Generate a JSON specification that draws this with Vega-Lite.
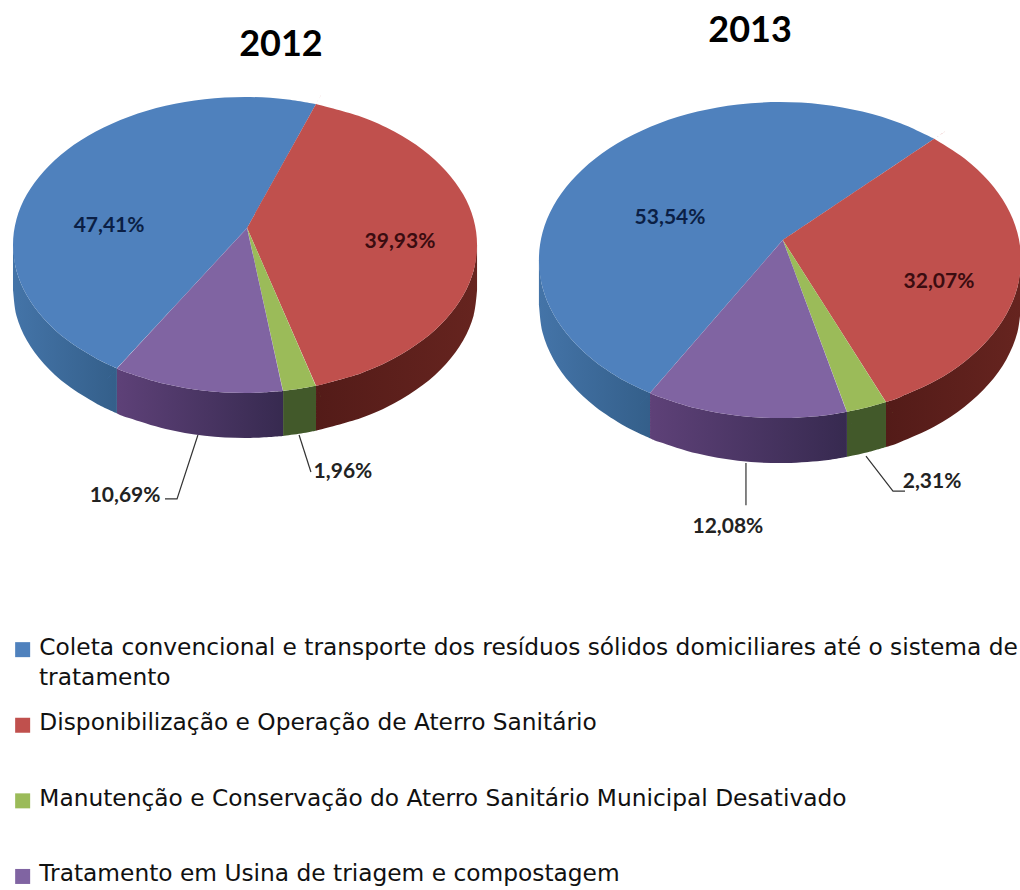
{"$schema":"https://vega.github.io/schema/vega-lite/v6.json","background":"white","padding":0,"spacing":0,"bounds":"flush",
"config":{"view":{"stroke":null},"axis":{"disable":true}},
"datasets":{
"categories":[{"c":"coleta","categoria":"Coleta convencional e transporte dos resíduos sólidos domiciliares até o sistema de tratamento"},{"c":"aterro","categoria":"Disponibilização e Operação de Aterro Sanitário"},{"c":"manut","categoria":"Manutenção e Conservação do Aterro Sanitário Municipal Desativado"},{"c":"usina","categoria":"Tratamento em Usina de triagem e compostagem"}],
"top":[
{"ano":2012,"c":"coleta","u":0.009,"v":-0.115},{"ano":2012,"c":"coleta","u":-0.552,"v":0.834},{"ano":2012,"c":"coleta","u":-0.552,"v":0.834},{"ano":2012,"c":"coleta","u":-0.552,"v":0.834},{"ano":2012,"c":"coleta","u":-0.643,"v":0.766},{"ano":2012,"c":"coleta","u":-0.766,"v":0.643},{"ano":2012,"c":"coleta","u":-0.866,"v":0.5},{"ano":2012,"c":"coleta","u":-0.94,"v":0.342},{"ano":2012,"c":"coleta","u":-0.985,"v":0.174},{"ano":2012,"c":"coleta","u":-1,"v":0},{"ano":2012,"c":"coleta","u":-0.985,"v":-0.174},{"ano":2012,"c":"coleta","u":-0.94,"v":-0.342},{"ano":2012,"c":"coleta","u":-0.866,"v":-0.5},{"ano":2012,"c":"coleta","u":-0.766,"v":-0.643},{"ano":2012,"c":"coleta","u":-0.643,"v":-0.766},{"ano":2012,"c":"coleta","u":-0.5,"v":-0.866},{"ano":2012,"c":"coleta","u":-0.342,"v":-0.94},{"ano":2012,"c":"coleta","u":-0.174,"v":-0.985},{"ano":2012,"c":"coleta","u":0,"v":-1},{"ano":2012,"c":"coleta","u":0.174,"v":-0.985},{"ano":2012,"c":"coleta","u":0.306,"v":-0.952},
{"ano":2012,"c":"aterro","u":0.009,"v":-0.115},{"ano":2012,"c":"aterro","u":0.306,"v":-0.952},{"ano":2012,"c":"aterro","u":0.306,"v":-0.952},{"ano":2012,"c":"aterro","u":0.306,"v":-0.952},{"ano":2012,"c":"aterro","u":0.5,"v":-0.866},{"ano":2012,"c":"aterro","u":0.643,"v":-0.766},{"ano":2012,"c":"aterro","u":0.766,"v":-0.643},{"ano":2012,"c":"aterro","u":0.866,"v":-0.5},{"ano":2012,"c":"aterro","u":0.94,"v":-0.342},{"ano":2012,"c":"aterro","u":0.985,"v":-0.174},{"ano":2012,"c":"aterro","u":1,"v":0},{"ano":2012,"c":"aterro","u":0.985,"v":0.174},{"ano":2012,"c":"aterro","u":0.94,"v":0.342},{"ano":2012,"c":"aterro","u":0.866,"v":0.5},{"ano":2012,"c":"aterro","u":0.766,"v":0.643},{"ano":2012,"c":"aterro","u":0.643,"v":0.766},{"ano":2012,"c":"aterro","u":0.5,"v":0.866},{"ano":2012,"c":"aterro","u":0.306,"v":0.952},
{"ano":2012,"c":"manut","u":0.009,"v":-0.115},{"ano":2012,"c":"manut","u":0.306,"v":0.952},{"ano":2012,"c":"manut","u":0.306,"v":0.952},{"ano":2012,"c":"manut","u":0.306,"v":0.952},{"ano":2012,"c":"manut","u":0.242,"v":0.97},{"ano":2012,"c":"manut","u":0.164,"v":0.986},
{"ano":2012,"c":"usina","u":0.009,"v":-0.115},{"ano":2012,"c":"usina","u":0.164,"v":0.986},{"ano":2012,"c":"usina","u":0.164,"v":0.986},{"ano":2012,"c":"usina","u":0.164,"v":0.986},{"ano":2012,"c":"usina","u":0,"v":1},{"ano":2012,"c":"usina","u":-0.174,"v":0.985},{"ano":2012,"c":"usina","u":-0.342,"v":0.94},{"ano":2012,"c":"usina","u":-0.5,"v":0.866},{"ano":2012,"c":"usina","u":-0.552,"v":0.834},
{"ano":2013,"c":"coleta","u":0.012,"v":-0.127},{"ano":2013,"c":"coleta","u":-0.539,"v":0.842},{"ano":2013,"c":"coleta","u":-0.539,"v":0.842},{"ano":2013,"c":"coleta","u":-0.539,"v":0.842},{"ano":2013,"c":"coleta","u":-0.643,"v":0.766},{"ano":2013,"c":"coleta","u":-0.766,"v":0.643},{"ano":2013,"c":"coleta","u":-0.866,"v":0.5},{"ano":2013,"c":"coleta","u":-0.94,"v":0.342},{"ano":2013,"c":"coleta","u":-0.985,"v":0.174},{"ano":2013,"c":"coleta","u":-1,"v":0},{"ano":2013,"c":"coleta","u":-0.985,"v":-0.174},{"ano":2013,"c":"coleta","u":-0.94,"v":-0.342},{"ano":2013,"c":"coleta","u":-0.866,"v":-0.5},{"ano":2013,"c":"coleta","u":-0.766,"v":-0.643},{"ano":2013,"c":"coleta","u":-0.643,"v":-0.766},{"ano":2013,"c":"coleta","u":-0.5,"v":-0.866},{"ano":2013,"c":"coleta","u":-0.342,"v":-0.94},{"ano":2013,"c":"coleta","u":-0.174,"v":-0.985},{"ano":2013,"c":"coleta","u":0,"v":-1},{"ano":2013,"c":"coleta","u":0.174,"v":-0.985},{"ano":2013,"c":"coleta","u":0.342,"v":-0.94},{"ano":2013,"c":"coleta","u":0.5,"v":-0.866},{"ano":2013,"c":"coleta","u":0.64,"v":-0.768},
{"ano":2013,"c":"aterro","u":0.012,"v":-0.127},{"ano":2013,"c":"aterro","u":0.64,"v":-0.768},{"ano":2013,"c":"aterro","u":0.64,"v":-0.768},{"ano":2013,"c":"aterro","u":0.64,"v":-0.768},{"ano":2013,"c":"aterro","u":0.766,"v":-0.643},{"ano":2013,"c":"aterro","u":0.866,"v":-0.5},{"ano":2013,"c":"aterro","u":0.94,"v":-0.342},{"ano":2013,"c":"aterro","u":0.985,"v":-0.174},{"ano":2013,"c":"aterro","u":1,"v":0},{"ano":2013,"c":"aterro","u":0.985,"v":0.174},{"ano":2013,"c":"aterro","u":0.94,"v":0.342},{"ano":2013,"c":"aterro","u":0.866,"v":0.5},{"ano":2013,"c":"aterro","u":0.766,"v":0.643},{"ano":2013,"c":"aterro","u":0.643,"v":0.766},{"ano":2013,"c":"aterro","u":0.5,"v":0.866},{"ano":2013,"c":"aterro","u":0.44,"v":0.898},
{"ano":2013,"c":"manut","u":0.012,"v":-0.127},{"ano":2013,"c":"manut","u":0.44,"v":0.898},{"ano":2013,"c":"manut","u":0.44,"v":0.898},{"ano":2013,"c":"manut","u":0.44,"v":0.898},{"ano":2013,"c":"manut","u":0.36,"v":0.933},{"ano":2013,"c":"manut","u":0.278,"v":0.96},
{"ano":2013,"c":"usina","u":0.012,"v":-0.127},{"ano":2013,"c":"usina","u":0.278,"v":0.96},{"ano":2013,"c":"usina","u":0.278,"v":0.96},{"ano":2013,"c":"usina","u":0.278,"v":0.96},{"ano":2013,"c":"usina","u":0.174,"v":0.985},{"ano":2013,"c":"usina","u":0,"v":1},{"ano":2013,"c":"usina","u":-0.174,"v":0.985},{"ano":2013,"c":"usina","u":-0.342,"v":0.94},{"ano":2013,"c":"usina","u":-0.5,"v":0.866},{"ano":2013,"c":"usina","u":-0.539,"v":0.842}
],
"side":[
{"ano":2012,"c":"coleta","u":-0.552,"v":0.834},{"ano":2012,"c":"coleta","u":-0.643,"v":0.766},{"ano":2012,"c":"coleta","u":-0.766,"v":0.643},{"ano":2012,"c":"coleta","u":-0.866,"v":0.5},{"ano":2012,"c":"coleta","u":-0.94,"v":0.342},{"ano":2012,"c":"coleta","u":-0.985,"v":0.174},{"ano":2012,"c":"coleta","u":-1,"v":0},{"ano":2012,"c":"coleta","u":-1,"v":0},{"ano":2012,"c":"coleta","u":-1,"v":0},{"ano":2012,"c":"coleta","u":-1,"v":0.304},{"ano":2012,"c":"coleta","u":-1,"v":0.304},{"ano":2012,"c":"coleta","u":-1,"v":0.304},{"ano":2012,"c":"coleta","u":-0.985,"v":0.478},{"ano":2012,"c":"coleta","u":-0.94,"v":0.646},{"ano":2012,"c":"coleta","u":-0.866,"v":0.804},{"ano":2012,"c":"coleta","u":-0.766,"v":0.947},{"ano":2012,"c":"coleta","u":-0.643,"v":1.07},{"ano":2012,"c":"coleta","u":-0.552,"v":1.138},
{"ano":2012,"c":"aterro","u":1,"v":0},{"ano":2012,"c":"aterro","u":0.985,"v":0.174},{"ano":2012,"c":"aterro","u":0.94,"v":0.342},{"ano":2012,"c":"aterro","u":0.866,"v":0.5},{"ano":2012,"c":"aterro","u":0.766,"v":0.643},{"ano":2012,"c":"aterro","u":0.643,"v":0.766},{"ano":2012,"c":"aterro","u":0.5,"v":0.866},{"ano":2012,"c":"aterro","u":0.306,"v":0.952},{"ano":2012,"c":"aterro","u":0.306,"v":0.952},{"ano":2012,"c":"aterro","u":0.306,"v":0.952},{"ano":2012,"c":"aterro","u":0.306,"v":1.256},{"ano":2012,"c":"aterro","u":0.306,"v":1.256},{"ano":2012,"c":"aterro","u":0.306,"v":1.256},{"ano":2012,"c":"aterro","u":0.5,"v":1.17},{"ano":2012,"c":"aterro","u":0.643,"v":1.07},{"ano":2012,"c":"aterro","u":0.766,"v":0.947},{"ano":2012,"c":"aterro","u":0.866,"v":0.804},{"ano":2012,"c":"aterro","u":0.94,"v":0.646},{"ano":2012,"c":"aterro","u":0.985,"v":0.478},{"ano":2012,"c":"aterro","u":1,"v":0.304},
{"ano":2012,"c":"manut","u":0.306,"v":0.952},{"ano":2012,"c":"manut","u":0.242,"v":0.97},{"ano":2012,"c":"manut","u":0.164,"v":0.986},{"ano":2012,"c":"manut","u":0.164,"v":0.986},{"ano":2012,"c":"manut","u":0.164,"v":0.986},{"ano":2012,"c":"manut","u":0.164,"v":1.29},{"ano":2012,"c":"manut","u":0.164,"v":1.29},{"ano":2012,"c":"manut","u":0.164,"v":1.29},{"ano":2012,"c":"manut","u":0.242,"v":1.274},{"ano":2012,"c":"manut","u":0.306,"v":1.256},
{"ano":2012,"c":"usina","u":0.164,"v":0.986},{"ano":2012,"c":"usina","u":0,"v":1},{"ano":2012,"c":"usina","u":-0.174,"v":0.985},{"ano":2012,"c":"usina","u":-0.342,"v":0.94},{"ano":2012,"c":"usina","u":-0.5,"v":0.866},{"ano":2012,"c":"usina","u":-0.552,"v":0.834},{"ano":2012,"c":"usina","u":-0.552,"v":0.834},{"ano":2012,"c":"usina","u":-0.552,"v":0.834},{"ano":2012,"c":"usina","u":-0.552,"v":1.138},{"ano":2012,"c":"usina","u":-0.552,"v":1.138},{"ano":2012,"c":"usina","u":-0.552,"v":1.138},{"ano":2012,"c":"usina","u":-0.5,"v":1.17},{"ano":2012,"c":"usina","u":-0.342,"v":1.244},{"ano":2012,"c":"usina","u":-0.174,"v":1.289},{"ano":2012,"c":"usina","u":0,"v":1.304},{"ano":2012,"c":"usina","u":0.164,"v":1.29},
{"ano":2013,"c":"coleta","u":-0.539,"v":0.842},{"ano":2013,"c":"coleta","u":-0.643,"v":0.766},{"ano":2013,"c":"coleta","u":-0.766,"v":0.643},{"ano":2013,"c":"coleta","u":-0.866,"v":0.5},{"ano":2013,"c":"coleta","u":-0.94,"v":0.342},{"ano":2013,"c":"coleta","u":-0.985,"v":0.174},{"ano":2013,"c":"coleta","u":-1,"v":0},{"ano":2013,"c":"coleta","u":-1,"v":0},{"ano":2013,"c":"coleta","u":-1,"v":0},{"ano":2013,"c":"coleta","u":-1,"v":0.285},{"ano":2013,"c":"coleta","u":-1,"v":0.285},{"ano":2013,"c":"coleta","u":-1,"v":0.285},{"ano":2013,"c":"coleta","u":-0.985,"v":0.459},{"ano":2013,"c":"coleta","u":-0.94,"v":0.627},{"ano":2013,"c":"coleta","u":-0.866,"v":0.785},{"ano":2013,"c":"coleta","u":-0.766,"v":0.928},{"ano":2013,"c":"coleta","u":-0.643,"v":1.051},{"ano":2013,"c":"coleta","u":-0.539,"v":1.127},
{"ano":2013,"c":"aterro","u":1,"v":0},{"ano":2013,"c":"aterro","u":0.985,"v":0.174},{"ano":2013,"c":"aterro","u":0.94,"v":0.342},{"ano":2013,"c":"aterro","u":0.866,"v":0.5},{"ano":2013,"c":"aterro","u":0.766,"v":0.643},{"ano":2013,"c":"aterro","u":0.643,"v":0.766},{"ano":2013,"c":"aterro","u":0.5,"v":0.866},{"ano":2013,"c":"aterro","u":0.44,"v":0.898},{"ano":2013,"c":"aterro","u":0.44,"v":0.898},{"ano":2013,"c":"aterro","u":0.44,"v":0.898},{"ano":2013,"c":"aterro","u":0.44,"v":1.183},{"ano":2013,"c":"aterro","u":0.44,"v":1.183},{"ano":2013,"c":"aterro","u":0.44,"v":1.183},{"ano":2013,"c":"aterro","u":0.5,"v":1.151},{"ano":2013,"c":"aterro","u":0.643,"v":1.051},{"ano":2013,"c":"aterro","u":0.766,"v":0.928},{"ano":2013,"c":"aterro","u":0.866,"v":0.785},{"ano":2013,"c":"aterro","u":0.94,"v":0.627},{"ano":2013,"c":"aterro","u":0.985,"v":0.459},{"ano":2013,"c":"aterro","u":1,"v":0.285},
{"ano":2013,"c":"manut","u":0.44,"v":0.898},{"ano":2013,"c":"manut","u":0.36,"v":0.933},{"ano":2013,"c":"manut","u":0.278,"v":0.96},{"ano":2013,"c":"manut","u":0.278,"v":0.96},{"ano":2013,"c":"manut","u":0.278,"v":0.96},{"ano":2013,"c":"manut","u":0.278,"v":1.245},{"ano":2013,"c":"manut","u":0.278,"v":1.245},{"ano":2013,"c":"manut","u":0.278,"v":1.245},{"ano":2013,"c":"manut","u":0.36,"v":1.218},{"ano":2013,"c":"manut","u":0.44,"v":1.183},
{"ano":2013,"c":"usina","u":0.278,"v":0.96},{"ano":2013,"c":"usina","u":0.174,"v":0.985},{"ano":2013,"c":"usina","u":0,"v":1},{"ano":2013,"c":"usina","u":-0.174,"v":0.985},{"ano":2013,"c":"usina","u":-0.342,"v":0.94},{"ano":2013,"c":"usina","u":-0.5,"v":0.866},{"ano":2013,"c":"usina","u":-0.539,"v":0.842},{"ano":2013,"c":"usina","u":-0.539,"v":0.842},{"ano":2013,"c":"usina","u":-0.539,"v":0.842},{"ano":2013,"c":"usina","u":-0.539,"v":1.127},{"ano":2013,"c":"usina","u":-0.539,"v":1.127},{"ano":2013,"c":"usina","u":-0.539,"v":1.127},{"ano":2013,"c":"usina","u":-0.5,"v":1.151},{"ano":2013,"c":"usina","u":-0.342,"v":1.225},{"ano":2013,"c":"usina","u":-0.174,"v":1.27},{"ano":2013,"c":"usina","u":0,"v":1.285},{"ano":2013,"c":"usina","u":0.174,"v":1.27},{"ano":2013,"c":"usina","u":0.278,"v":1.245}
],
"leaders":[
{"ano":2012,"c":"usina","u":-0.203,"v":1.284},{"ano":2012,"c":"usina","u":-0.293,"v":1.716},{"ano":2012,"c":"usina","u":-0.345,"v":1.716},
{"ano":2012,"c":"manut","u":0.233,"v":1.284},{"ano":2012,"c":"manut","u":0.284,"v":1.534},
{"ano":2013,"c":"usina","u":-0.141,"v":1.285},{"ano":2013,"c":"usina","u":-0.141,"v":1.551},
{"ano":2013,"c":"manut","u":0.357,"v":1.241},{"ano":2013,"c":"manut","u":0.469,"v":1.462},{"ano":2013,"c":"manut","u":0.519,"v":1.462}
],
"labels":[
{"ano":2012,"c":"coleta","label":"47,41%","u":-0.586,"v":-0.128,"tint":"#0b1f45"},
{"ano":2012,"c":"aterro","label":"39,93%","u":0.668,"v":-0.02,"tint":"#3a0c10"},
{"ano":2012,"c":"usina","label":"10,69%","u":-0.517,"v":1.696,"tint":"#222222"},
{"ano":2012,"c":"manut","label":"1,96%","u":0.422,"v":1.534,"tint":"#222222"},
{"ano":2013,"c":"coleta","label":"53,54%","u":-0.456,"v":-0.266,"tint":"#0b1f45"},
{"ano":2013,"c":"aterro","label":"32,07%","u":0.66,"v":0.139,"tint":"#3a0c10"},
{"ano":2013,"c":"usina","label":"12,08%","u":-0.216,"v":1.69,"tint":"#222222"},
{"ano":2013,"c":"manut","label":"2,31%","u":0.631,"v":1.405,"tint":"#222222"}
],
"titles":[{"ano":2012,"label":"2012","u":0.155,"v":-1.351},{"ano":2013,"label":"2013","u":-0.124,"v":-1.449}],
"wrapped":[{"label":"tratamento","u":-0.888,"v":2.926}]
},
"resolve":{"scale":{"color":"shared"},"legend":{"color":"shared"}},
"hconcat":[
{"width":510,"height":620,
"encoding":{"x":{"field":"u","type":"quantitative","scale":{"domain":[-1.056,1.142],"nice":false,"zero":false},"axis":null},"y":{"field":"v","type":"quantitative","scale":{"domain":[-1.655,2.534],"nice":false,"zero":false,"reverse":true},"axis":null}},
"layer":[
{"data":{"name":"side"},"transform":[{"filter":"datum.ano==2012 && datum.c=='coleta'"},{"window":[{"op":"row_number","as":"i"}]}],"mark":{"type":"line","interpolate":"cardinal","filled":true,"stroke":null,"fill":{"gradient":"linear","x1":0,"y1":0,"x2":1,"y2":0,"stops":[{"offset":0,"color":"#4474a8"},{"offset":1,"color":"#345f8a"}]}},"encoding":{"order":{"field":"i"}}},
{"data":{"name":"side"},"transform":[{"filter":"datum.ano==2012 && datum.c=='aterro'"},{"window":[{"op":"row_number","as":"i"}]}],"mark":{"type":"line","interpolate":"cardinal","filled":true,"stroke":null,"fill":{"gradient":"linear","x1":0,"y1":0,"x2":1,"y2":0,"stops":[{"offset":0,"color":"#531b18"},{"offset":1,"color":"#66241f"}]}},"encoding":{"order":{"field":"i"}}},
{"data":{"name":"side"},"transform":[{"filter":"datum.ano==2012 && datum.c=='manut'"},{"window":[{"op":"row_number","as":"i"}]}],"mark":{"type":"line","interpolate":"cardinal","filled":true,"stroke":null,"fill":"#42592a"},"encoding":{"order":{"field":"i"}}},
{"data":{"name":"side"},"transform":[{"filter":"datum.ano==2012 && datum.c=='usina'"},{"window":[{"op":"row_number","as":"i"}]}],"mark":{"type":"line","interpolate":"cardinal","filled":true,"stroke":null,"fill":{"gradient":"linear","x1":0,"y1":0,"x2":1,"y2":0,"stops":[{"offset":0,"color":"#5e4178"},{"offset":1,"color":"#372a50"}]}},"encoding":{"order":{"field":"i"}}},
{"data":{"name":"top"},"transform":[{"filter":"datum.ano==2012"},{"lookup":"c","from":{"data":{"name":"categories"},"key":"c","fields":["categoria"]}},{"window":[{"op":"row_number","as":"i"}]}],"mark":{"type":"line","interpolate":"cardinal","filled":true,"stroke":null},
"encoding":{"order":{"field":"i"},"color":{"field":"categoria","type":"nominal","scale":{"domain":["Coleta convencional e transporte dos resíduos sólidos domiciliares até o sistema de tratamento","Disponibilização e Operação de Aterro Sanitário","Manutenção e Conservação do Aterro Sanitário Municipal Desativado","Tratamento em Usina de triagem e compostagem"],"range":["#4f81bd","#c0504d","#9bbb59","#8064a2"]},
"legend":{"orient":"none","legendX":11,"legendY":638,"title":null,"symbolType":"square","symbolSize":225,"symbolStrokeWidth":0,"symbolOpacity":1,"labelFont":"DejaVu Sans","labelFontSize":23.3,"labelColor":"#111111","labelLimit":1010,"labelOffset":5,"labelBaseline":"alphabetic","rowPadding":51.6,"columns":1,"labelExpr":"replace(datum.label,' tratamento','')",
"encoding":{"labels":{"dy":{"value":5}}}}}}},
{"data":{"name":"wrapped"},"mark":{"type":"text","font":"DejaVu Sans","fontSize":23.3,"align":"left","color":"#111111"},"encoding":{"text":{"field":"label"}}},
{"data":{"name":"leaders"},"transform":[{"filter":"datum.ano==2012"},{"window":[{"op":"row_number","as":"i"}]}],"mark":{"type":"line","stroke":"#333333","strokeWidth":1.2},"encoding":{"detail":{"field":"c"},"order":{"field":"i"}}},
{"data":{"name":"labels"},"transform":[{"filter":"datum.ano==2012"}],"mark":{"type":"text","font":"Lato","fontSize":21,"fontWeight":"bold"},"encoding":{"text":{"field":"label"},"color":{"field":"tint","type":"nominal","scale":null}}},
{"data":{"name":"titles"},"transform":[{"filter":"datum.ano==2012"}],"mark":{"type":"text","font":"Lato","fontSize":36,"fontWeight":"bold","color":"#000000"},"encoding":{"text":{"field":"label"}}}
]},
{"width":510,"height":620,
"encoding":{"x":{"field":"u","type":"quantitative","scale":{"domain":[-1.12,0.996],"nice":false,"zero":false},"axis":null},"y":{"field":"v","type":"quantitative","scale":{"domain":[-1.646,2.278],"nice":false,"zero":false,"reverse":true},"axis":null}},
"layer":[
{"data":{"name":"side"},"transform":[{"filter":"datum.ano==2013 && datum.c=='coleta'"},{"window":[{"op":"row_number","as":"i"}]}],"mark":{"type":"line","interpolate":"cardinal","filled":true,"stroke":null,"fill":{"gradient":"linear","x1":0,"y1":0,"x2":1,"y2":0,"stops":[{"offset":0,"color":"#4474a8"},{"offset":1,"color":"#345f8a"}]}},"encoding":{"order":{"field":"i"}}},
{"data":{"name":"side"},"transform":[{"filter":"datum.ano==2013 && datum.c=='aterro'"},{"window":[{"op":"row_number","as":"i"}]}],"mark":{"type":"line","interpolate":"cardinal","filled":true,"stroke":null,"clip":true,"fill":{"gradient":"linear","x1":0,"y1":0,"x2":1,"y2":0,"stops":[{"offset":0,"color":"#531b18"},{"offset":1,"color":"#66241f"}]}},"encoding":{"order":{"field":"i"}}},
{"data":{"name":"side"},"transform":[{"filter":"datum.ano==2013 && datum.c=='manut'"},{"window":[{"op":"row_number","as":"i"}]}],"mark":{"type":"line","interpolate":"cardinal","filled":true,"stroke":null,"fill":"#42592a"},"encoding":{"order":{"field":"i"}}},
{"data":{"name":"side"},"transform":[{"filter":"datum.ano==2013 && datum.c=='usina'"},{"window":[{"op":"row_number","as":"i"}]}],"mark":{"type":"line","interpolate":"cardinal","filled":true,"stroke":null,"fill":{"gradient":"linear","x1":0,"y1":0,"x2":1,"y2":0,"stops":[{"offset":0,"color":"#5e4178"},{"offset":1,"color":"#372a50"}]}},"encoding":{"order":{"field":"i"}}},
{"data":{"name":"top"},"transform":[{"filter":"datum.ano==2013"},{"lookup":"c","from":{"data":{"name":"categories"},"key":"c","fields":["categoria"]}},{"window":[{"op":"row_number","as":"i"}]}],"mark":{"type":"line","interpolate":"cardinal","filled":true,"stroke":null,"clip":true},
"encoding":{"order":{"field":"i"},"color":{"field":"categoria","type":"nominal"}}},
{"data":{"name":"leaders"},"transform":[{"filter":"datum.ano==2013"},{"window":[{"op":"row_number","as":"i"}]}],"mark":{"type":"line","stroke":"#333333","strokeWidth":1.2},"encoding":{"detail":{"field":"c"},"order":{"field":"i"}}},
{"data":{"name":"labels"},"transform":[{"filter":"datum.ano==2013"}],"mark":{"type":"text","font":"Lato","fontSize":21,"fontWeight":"bold"},"encoding":{"text":{"field":"label"},"color":{"field":"tint","type":"nominal","scale":null}}},
{"data":{"name":"titles"},"transform":[{"filter":"datum.ano==2013"}],"mark":{"type":"text","font":"Lato","fontSize":36,"fontWeight":"bold","color":"#000000"},"encoding":{"text":{"field":"label"}}}
]}
]}
